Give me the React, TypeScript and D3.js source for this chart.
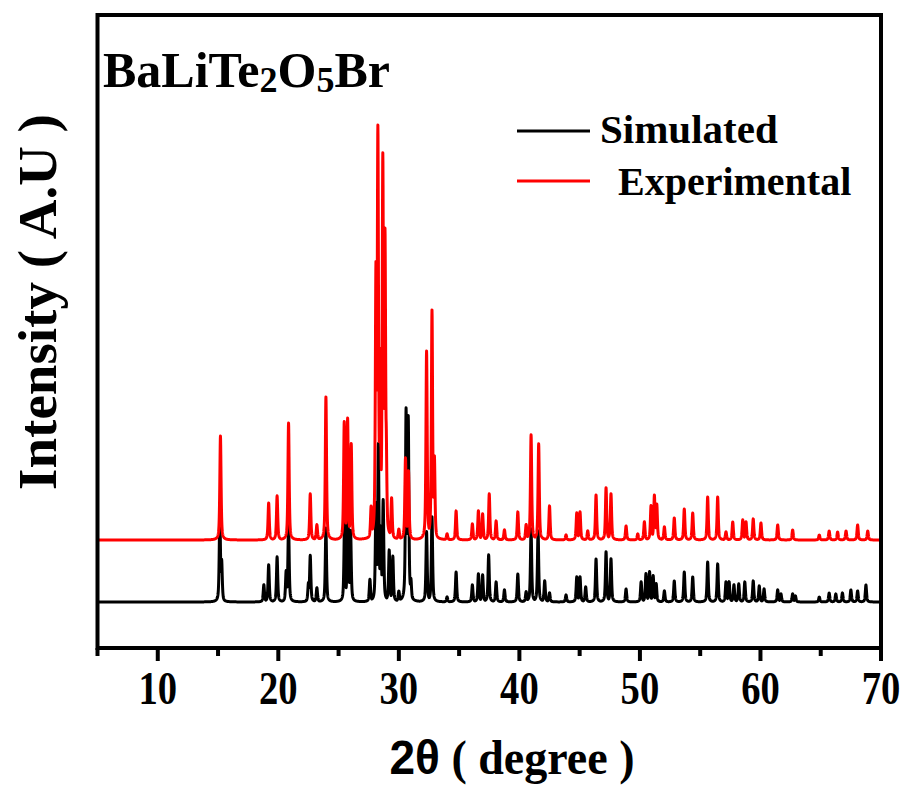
import React from "react";
import * as d3 from "d3";

// ---- data (2θ in degree, intensity in arbitrary units) ----
const simPeakPos = [15.15, 15.3, 18.8, 19.2, 19.9, 20.65, 20.85, 22.5, 22.65, 23.2, 23.95, 25.5, 25.77, 26.0, 27.6, 28.1, 28.3, 28.5, 28.7, 29.2, 29.5, 30.0, 30.6, 30.78, 31.0, 32.3, 32.75, 34.0, 34.75, 36.1, 36.6, 36.95, 37.45, 38.07, 38.76, 39.87, 40.56, 40.97, 41.55, 42.1, 42.5, 43.87, 44.76, 45.03, 45.5, 46.36, 47.19, 47.6, 48.85, 50.1, 50.5, 50.8, 51.1, 51.35, 52.03, 52.85, 53.68, 54.38, 55.62, 56.45, 57.14, 57.4, 57.8, 58.2, 58.7, 59.4, 59.9, 60.3, 61.43, 61.7, 62.67, 62.9, 64.88, 65.7, 66.25, 66.8, 67.5, 68.06, 68.75];
const simPeakInt = [87, 40, 17, 37, 45, 30, 79, 18, 46, 14, 74, 85, 101, 70, 22, 96, 155, 71, 100, 51, 45, 10, 190, 182, 20, 70, 85, 5, 30, 17, 28, 27, 47, 20, 12, 28, 10, 73, 71, 21, 9, 7, 25, 25, 15, 43, 50, 43, 13, 20, 28, 30, 26, 18, 11, 21, 30, 25, 40, 38, 20, 20, 17, 18, 20, 21, 16, 13, 12, 8, 8, 6, 5, 9, 8, 9, 12, 11, 17];

const expPeakPos = [15.2, 19.2, 19.9, 20.85, 22.65, 23.2, 23.95, 25.47, 25.75, 26.05, 27.7, 28.1, 28.26, 28.45, 28.67, 28.85, 28.95, 29.4, 30.0, 30.55, 30.8, 32.3, 32.75, 32.95, 34.0, 34.75, 36.1, 36.6, 36.95, 37.5, 38.07, 38.76, 39.87, 40.56, 40.97, 41.6, 42.5, 43.87, 44.76, 45.03, 45.67, 46.36, 47.19, 47.6, 48.85, 49.82, 50.37, 50.92, 51.2, 51.4, 52.03, 52.85, 53.68, 54.38, 55.62, 56.45, 57.14, 57.7, 58.53, 58.8, 59.4, 60.04, 61.43, 62.67, 64.88, 65.7, 66.4, 67.1, 68.06, 68.9];
const expPeakInt = [104, 37, 44, 117, 46, 15, 143, 117, 120, 95, 31, 265, 402, 175, 375, 295, 90, 40, 10, 81, 68, 188, 228, 80, 6, 29, 16, 29, 26, 46, 19, 10, 28, 15, 105, 96, 34, 5, 27, 28, 9, 45, 52, 46, 14, 6, 18, 34, 44, 35, 13, 22, 31, 27, 43, 43, 8, 18, 20, 18, 21, 17, 15, 10, 5, 9, 8, 9, 15, 9];

const simOffset = 46;
const expOffset = 108;

const xTicks = [10, 20, 30, 40, 50, 60, 70];
const xMinorTicks = [5, 15, 25, 35, 45, 55, 65];

const seriesNames = ["Simulated", "Experimental"];
const seriesColors = ["#000000", "#ff0000"];

// ---- layout ----
const W = 911, H = 791;
const L = 97.5, R = 881, T = 15, B = 648;
const FONT = "'Times New Roman', 'Liberation Serif', serif";

function profile(x: number, c: number, fwhm: number, eta: number) {
  const d = x - c;
  const g = Math.exp(-4 * Math.LN2 * (d / fwhm) ** 2);
  const l = 1 / (1 + (2 * d / fwhm) ** 2);
  return eta * l + (1 - eta) * g;
}

function pattern(pos: number[], ints: number[], offset: number, fwhm: number, eta: number) {
  const pts: [number, number][] = [];
  for (let i = 0; i <= 6500; i++) {
    const x = 5 + i * 0.01;
    let mx = 0, sum = 0;
    for (let k = 0; k < pos.length; k++) {
      if (Math.abs(x - pos[k]) < 3) {
        const v = ints[k] * profile(x, pos[k], fwhm, eta);
        sum += v;
        if (v > mx) mx = v;
      }
    }
    pts.push([x, offset + mx + 0.35 * (sum - mx)]);
  }
  return pts;
}

export default function App() {
  const x = d3.scaleLinear().domain([5, 70]).range([L, R]);
  const y = d3.scaleLinear().domain([0, B - T]).range([B, T]);
  const line = d3.line<[number, number]>().x(d => x(d[0])).y(d => y(d[1]));
  const sim = pattern(simPeakPos, simPeakInt, simOffset, 0.12, 0.6);
  const exp = pattern(expPeakPos, expPeakInt, expOffset, 0.12, 0.6);

  return (
    <svg width={W} height={H} style={{ position: "absolute", left: 0, top: 0, background: "#fff" }}>
      <rect x={0} y={0} width={W} height={H} fill="#fff" />
      <defs>
        <clipPath id="plot"><rect x={L} y={T} width={R - L} height={B - T} /></clipPath>
      </defs>
      <g clipPath="url(#plot)">
        <path d={line(sim) || ""} fill="none" stroke={seriesColors[0]} strokeWidth={3} strokeLinejoin="round" />
        <path d={line(exp) || ""} fill="none" stroke={seriesColors[1]} strokeWidth={3} strokeLinejoin="round" />
      </g>
      <rect x={L} y={T} width={R - L} height={B - T} fill="none" stroke="#000" strokeWidth={4} />
      {xTicks.map(t => (
        <g key={"t" + t}>
          <line x1={x(t)} x2={x(t)} y1={B} y2={B + 13} stroke="#000" strokeWidth={4} />
          <text transform={`translate(${x(t)},704) scale(0.92,1.12)`} textAnchor="middle" fontFamily={FONT} fontWeight="bold" fontSize={42}>{t}</text>
        </g>
      ))}
      {xMinorTicks.map(t => (
        <line key={"m" + t} x1={x(t)} x2={x(t)} y1={B} y2={B + 8} stroke="#000" strokeWidth={4} />
      ))}
      <text transform="translate(512,774) scale(1,1.06)" textAnchor="middle" fontFamily={FONT} fontWeight="bold" fontSize={46}>
        <tspan fontFamily="'Liberation Sans', Arial, sans-serif">2θ</tspan> ( degree )
      </text>
      <text transform="translate(56,302) rotate(-90)" textAnchor="middle" fontFamily={FONT} fontWeight="bold" fontSize={55}>
        Intensity ( A.U )
      </text>
      <text x={103} y={87} fontFamily={FONT} fontWeight="bold" fontSize={50}>
        BaLiTe<tspan fontSize={36} dy={5}>2</tspan><tspan dy={-5}>O</tspan><tspan fontSize={36} dy={5}>5</tspan><tspan dy={-5}>Br</tspan>
      </text>
      <line x1={517} x2={590} y1={131} y2={131} stroke={seriesColors[0]} strokeWidth={3} />
      <text x={600} y={143} fontFamily={FONT} fontWeight="bold" fontSize={41}>{seriesNames[0]}</text>
      <line x1={517} x2={590} y1={181} y2={181} stroke={seriesColors[1]} strokeWidth={3} />
      <text x={618} y={195} fontFamily={FONT} fontWeight="bold" fontSize={40}>{seriesNames[1]}</text>
    </svg>
  );
}
